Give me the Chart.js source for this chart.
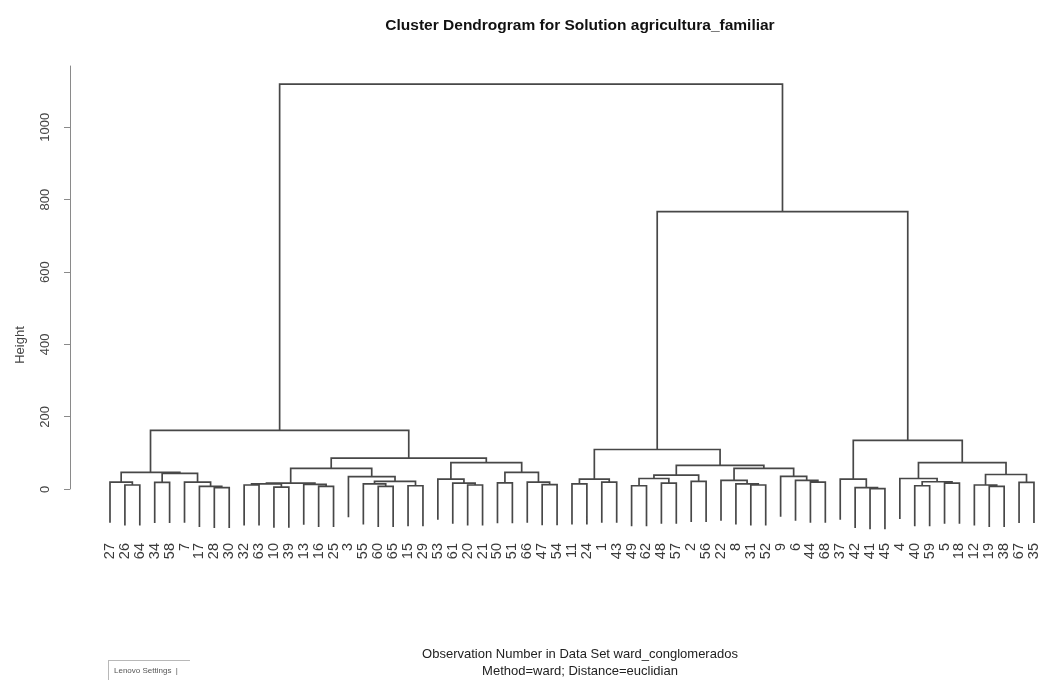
<!DOCTYPE html>
<html>
<head>
<meta charset="utf-8">
<script src="https://cdn.jsdelivr.net/npm/chart.js@4.4.1/dist/chart.umd.min.js"></script>
<style>
html,body{margin:0;padding:0;background:#fff;overflow:hidden;width:1045px;height:683px;}
#wrap{position:absolute;left:0;top:0;width:1160px;height:683px;}
#lenovo{position:absolute;left:108px;top:660px;width:82px;height:20px;border:1px solid #b8b8b8;border-bottom:none;border-right:none;
  font:8px 'Liberation Sans',sans-serif;color:#555;line-height:20px;padding-left:5px;box-sizing:border-box;white-space:nowrap;}
</style>
</head>
<body>
<div id="wrap"><canvas id="c" width="1160" height="683"></canvas></div>
<div id="lenovo">Lenovo Settings&nbsp;&nbsp;|</div>
<script>
// Leaf order (left to right) as printed under the dendrogram
const leafLabels = ['27','26','64','34','58','7','17','28','30','32','63','10','39','13','16','25','3','55','60','65','15','29','53','61','20','21','50','51','66','47','54','11','24','1','43','49','62','48','57','2','56','22','8','31','52','9','6','44','68','37','42','41','45','4','40','59','5','18','12','19','38','67','35'];

// hclust-style merge table: negative = leaf position (1-based), positive = earlier merge row (1-based)
const mergeLeft  = [-2,-1,-4,-8,-7,-6,3,2,-10,-12, 9,-15,-14,11,-19,-18,-21,16,-17,14, -25,-24,-23,-27,-30,-29,24,23,20,8, -32,-34,31,-36,-38,34,-40,36,-44,-43, -42,-48,-47,-46,41,38,33,-52,-51,-50, -55,-57,51,-54,-60,-59,-62,56,54,50, 47,30];
const mergeRight = [-3,1,-5,-9,4,5,6,7,-11,-13, 10,-16,12,13,-20,15,-22,17,18,19, -26,21,22,-28,-31,25,26,27,28,29, -33,-35,32,-37,-39,35,-41,37,-45,39, 40,-49,42,43,44,45,46,-53,48,49, -56,-58,52,53,-61,55,-63,57,58,59, 60,61];
const mergeHeight = [12,20,19,5,8,20,44,47,12,6, 15,8,14,17,8,15,10,22,35,58, 12,17,28,18,13,20,47,74,86,163, 15,20,28,10,17,30,22,39,12,15, 25,20,25,36,58,66,110,2,5,28, 10,17,21,30,8,12,19,41,74,135, 767,1119];

const titleText = 'Cluster Dendrogram for Solution agricultura_familiar';
const xCaption = ['Observation Number in Data Set ward_conglomerados', 'Method=ward; Distance=euclidian'];
const yTitle = 'Height';

// R's plot.hclust hang = 0.1 of the tree height
const hang = 0.1 * Math.max(...mergeHeight);

const nodeX = [];
function childX(c) { return c < 0 ? (-c - 1) : nodeX[c - 1]; }
function childY(c, parentH) { return c < 0 ? parentH - hang : mergeHeight[c - 1]; }
const segs = [];
for (let k = 0; k < mergeHeight.length; k++) {
  const l = mergeLeft[k], r = mergeRight[k], h = mergeHeight[k];
  const xl = childX(l), xr = childX(r);
  nodeX[k] = (xl + xr) / 2;
  segs.push({x: xl, y: childY(l, h)}, {x: xl, y: h}, {x: xr, y: h}, {x: xr, y: childY(r, h)}, {x: xr, y: null});
}

const regular = "'Liberation Sans', Arial, sans-serif";

const xMin = -2.684, xMax = 65.76;

const axisExtras = {
  id: 'axisExtras',
  afterDraw(chart) {
    const y = chart.scales.y, c = chart.ctx, x = Math.round(chart.chartArea.left) + 0.5;
    c.save();
    c.strokeStyle = '#8a8a8a';
    c.lineWidth = 1;
    c.beginPath();
    c.moveTo(x, y.getPixelForValue(0));
    c.lineTo(x, y.getPixelForValue(y.max));
    c.stroke();
    c.translate(20, 345);
    c.rotate(-Math.PI / 2);
    c.font = '13px ' + regular;
    c.fillStyle = '#444';
    c.textAlign = 'center';
    c.textBaseline = 'middle';
    c.fillText(yTitle, 0, 0);
    c.restore();
  }
};

new Chart(document.getElementById('c'), {
  type: 'line',
  data: {
    datasets: [{
      data: segs,
      borderColor: '#474747',
      borderWidth: 1.7,
      pointRadius: 0,
      fill: false,
      tension: 0,
      spanGaps: false
    }]
  },
  options: {
    responsive: false,
    animation: false,
    events: [],
    layout: {padding: 0},
    plugins: {
      legend: {display: false},
      tooltip: {enabled: false},
      title: {
        display: true, text: titleText, color: '#111',
        font: {family: regular, size: 15.5, weight: 'bold', lineHeight: 1.2},
        padding: {top: 16, bottom: 31}
      }
    },
    scales: {
      x: {
        type: 'linear', min: xMin, max: xMax,
        grid: {display: false}, border: {display: false},
        ticks: {
          stepSize: 1, autoSkip: false, includeBounds: false,
          minRotation: 90, maxRotation: 90, padding: 4,
          color: '#3a3a3a', font: {family: regular, size: 14.5},
          callback: (v) => (Number.isInteger(v) && v >= 0 && v < leafLabels.length) ? leafLabels[v] : ''
        },
        title: {
          display: true, text: xCaption, color: '#222',
          font: {family: regular, size: 13, lineHeight: 1.3},
          padding: {top: 0, bottom: 3}
        },
        afterFit: (s) => { s.height = 152; }
      },
      y: {
        type: 'linear', position: 'left', min: -115, max: 1170,
        grid: {display: true, drawOnChartArea: false, drawTicks: true, tickLength: 6, color: '#8a8a8a'},
        border: {display: false},
        ticks: {
          stepSize: 200, includeBounds: false, minRotation: 90, maxRotation: 90,
          crossAlign: 'center', padding: 4, color: '#444', font: {family: regular, size: 13},
          callback: (v) => String(v)
        },
        afterFit: (s) => { s.width = 70; }
      },
      yMargin: {
        type: 'linear', position: 'right', display: true,
        grid: {display: false}, border: {display: false}, ticks: {display: false},
        afterFit: (s) => { s.width = 70; }
      }
    }
  },
  plugins: [axisExtras]
});
</script>
</body>
</html>
